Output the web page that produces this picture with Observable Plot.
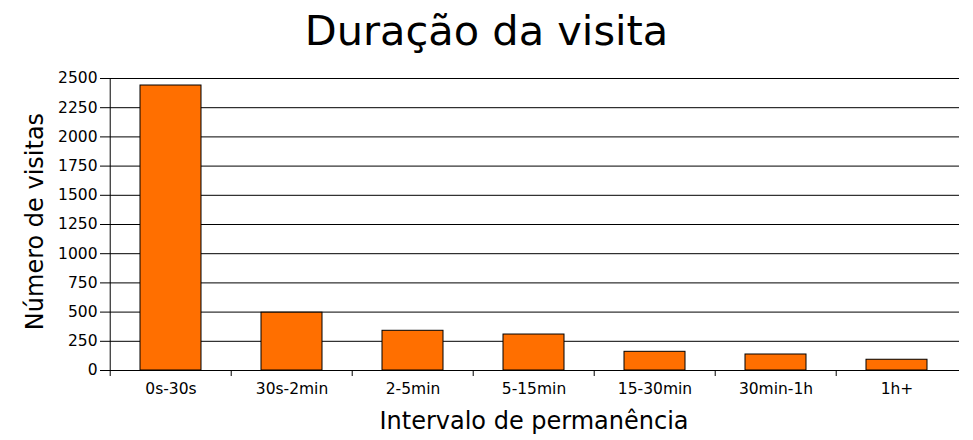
<!DOCTYPE html>
<html>
<head>
<meta charset="utf-8">
<script src="https://cdn.jsdelivr.net/npm/d3@7"></script>
<script src="https://cdn.jsdelivr.net/npm/@observablehq/plot@0.6"></script>
<style>
  body { margin: 0; background: #fff; font-family: "DejaVu Sans", Verdana, sans-serif; }
  #title { height: 62px; line-height: 62px; font-size: 41.5px; text-align: center; color: #000; width: 973px; }
</style>
</head>
<body>
<div id="title">Duração da visita</div>
<div id="chart"></div>
<script>
const categories = ["0s-30s", "30s-2min", "2-5min", "5-15min", "15-30min", "30min-1h", "1h+"];
const visits = [2440, 495, 340, 308, 160, 137, 92];
const yTicks = [0, 250, 500, 750, 1000, 1250, 1500, 1750, 2000, 2250, 2500];
const xLabel = "Intervalo de permanência";
const yLabel = "Número de visitas";

const data = categories.map((c, i) => ({category: c, value: visits[i]}));

const W = 973, H = 378, mL = 108, mR = 14, mT = 16, mB = 70;
const halfStep = (W - mL - mR) / categories.length / 2;

const chart = Plot.plot({
  width: W,
  height: H,
  marginLeft: mL,
  marginRight: mR,
  marginTop: mT,
  marginBottom: mB,
  style: {fontFamily: "'DejaVu Sans', Verdana, sans-serif", fontSize: "15.5px", color: "#000", background: "#fff", overflow: "visible"},
  x: {domain: categories, paddingInner: 0.5, paddingOuter: 0.25, align: 0.5, label: null, tickSize: 0, tickPadding: 12},
  y: {domain: [0, 2500], ticks: yTicks, tickFormat: d => String(d), label: null, tickSize: 8, tickPadding: 3},
  marks: [
    Plot.ruleY(yTicks.slice(1), {stroke: "#000", strokeWidth: 1}),
    Plot.barY(data, {x: "category", y: "value", fill: "#ff6f00", stroke: "#000", strokeWidth: 1}),
    Plot.ruleY([0], {stroke: "#000"}),
    Plot.ruleX([categories[0]], {dx: -halfStep, y1: 0, y2: 2500, stroke: "#000"}),
    Plot.ruleX(categories, {dx: -halfStep, y1: 0, y2: 0, insetBottom: -6, stroke: "#000"}),
    Plot.text([yLabel], {frameAnchor: "left", textAnchor: "middle", lineAnchor: "middle", dx: -73, dy: -3, rotate: -90, fontSize: 24, fill: "#000"}),
    Plot.text([xLabel], {frameAnchor: "bottom", textAnchor: "middle", lineAnchor: "middle", dy: 51, fontSize: 24, fill: "#000"})
  ]
});
document.getElementById("chart").appendChild(chart);
</script>
</body>
</html>
